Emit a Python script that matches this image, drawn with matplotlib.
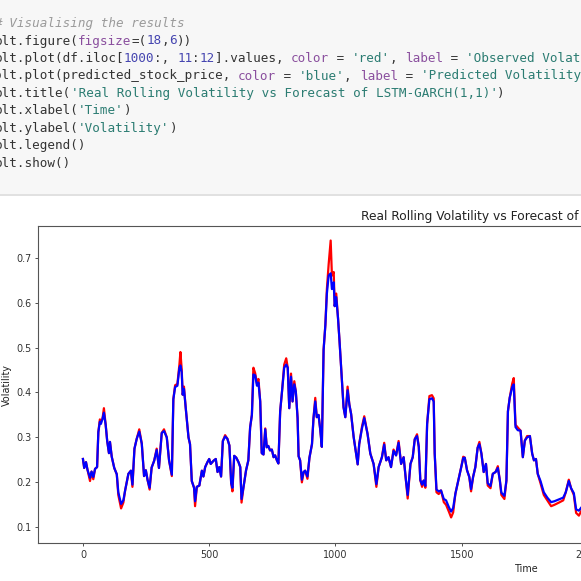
"""Notebook cell screenshot: LSTM-GARCH volatility forecast"""
from matplotlib import pyplot as plt
from matplotlib.patches import Rectangle
from matplotlib.lines import Line2D

W = H = 581
DPI = 100

# ---- data ----
time_idx = [0, 5, 12, 18, 28, 34, 41, 48, 56, 61, 67, 71, 77, 83, 90, 96, 103, 107, 114, 124,
            134, 140, 151, 160, 167, 180, 190, 196, 204, 213, 223, 233, 242, 249, 256, 264, 272, 282, 292, 301,
            312, 321, 332, 341, 352, 358, 365, 374, 382, 386, 391, 395, 400, 407, 418, 424, 431, 440, 444, 451,
            461, 471, 477, 484, 493, 500, 506, 517, 526, 533, 540, 547, 554, 563, 572, 580, 587, 592, 599, 607,
            616, 623, 628, 636, 646, 655, 662, 669, 675, 682, 689, 695, 702, 708, 715, 722, 728, 734, 741, 748,
            755, 761, 768, 774, 781, 788, 797, 805, 811, 817, 824, 830, 837, 843, 850, 854, 860, 867, 874, 880,
            889, 897, 907, 913, 920, 926, 933, 940, 946, 953, 960, 966, 973, 981, 986, 993, 997, 1003, 1010, 1016,
            1023, 1032, 1039, 1048, 1055, 1062, 1072, 1081, 1088, 1094, 1105, 1114, 1127, 1138, 1151, 1162, 1171, 1184, 1193, 1201,
            1210, 1220, 1230, 1240, 1250, 1260, 1270, 1279, 1286, 1297, 1306, 1314, 1323, 1330, 1336, 1343, 1349, 1356, 1363, 1372,
            1382, 1389, 1393, 1400, 1409, 1418, 1429, 1438, 1449, 1458, 1466, 1475, 1488, 1498, 1506, 1512, 1521, 1530, 1537, 1545,
            1554, 1563, 1570, 1578, 1587, 1596, 1603, 1614, 1623, 1634, 1643, 1651, 1657, 1669, 1677, 1683, 1690, 1700, 1706, 1713,
            1722, 1733, 1742, 1750, 1759, 1770, 1779, 1786, 1794, 1801, 1812, 1825, 1839, 1854, 1867, 1885, 1902, 1912, 1924, 1933,
            1944, 1953, 1964, 1975, 1990]

predicted = [0.252, 0.232, 0.245, 0.228, 0.210, 0.224, 0.212, 0.230, 0.234, 0.312, 0.335, 0.330, 0.340, 0.355, 0.328, 0.292, 0.265, 0.290, 0.257, 0.232,
             0.218, 0.178, 0.152, 0.160, 0.182, 0.219, 0.226, 0.195, 0.275, 0.297, 0.313, 0.286, 0.214, 0.227, 0.205, 0.188, 0.233, 0.248, 0.272, 0.232,
             0.310, 0.314, 0.300, 0.249, 0.217, 0.385, 0.412, 0.415, 0.455, 0.460, 0.445, 0.395, 0.408, 0.365, 0.300, 0.285, 0.203, 0.188, 0.158, 0.190,
             0.193, 0.226, 0.213, 0.234, 0.245, 0.252, 0.241, 0.248, 0.252, 0.223, 0.234, 0.213, 0.292, 0.302, 0.297, 0.282, 0.198, 0.188, 0.259, 0.255,
             0.245, 0.234, 0.163, 0.190, 0.227, 0.249, 0.322, 0.350, 0.440, 0.438, 0.415, 0.422, 0.380, 0.265, 0.262, 0.318, 0.278, 0.281, 0.271, 0.273,
             0.256, 0.260, 0.249, 0.242, 0.358, 0.400, 0.455, 0.462, 0.455, 0.365, 0.435, 0.380, 0.418, 0.402, 0.343, 0.258, 0.249, 0.206, 0.223, 0.226,
             0.213, 0.255, 0.285, 0.343, 0.380, 0.345, 0.350, 0.316, 0.279, 0.495, 0.550, 0.620, 0.660, 0.665, 0.630, 0.645, 0.592, 0.612, 0.566, 0.515,
             0.449, 0.367, 0.345, 0.405, 0.373, 0.352, 0.301, 0.267, 0.240, 0.285, 0.320, 0.343, 0.308, 0.264, 0.241, 0.196, 0.234, 0.256, 0.284, 0.249,
             0.256, 0.234, 0.270, 0.260, 0.288, 0.241, 0.256, 0.205, 0.172, 0.241, 0.256, 0.296, 0.303, 0.279, 0.205, 0.195, 0.204, 0.192, 0.330, 0.385,
             0.387, 0.380, 0.264, 0.184, 0.180, 0.182, 0.163, 0.160, 0.145, 0.135, 0.143, 0.175, 0.208, 0.234, 0.254, 0.255, 0.227, 0.212, 0.185, 0.212,
             0.234, 0.277, 0.285, 0.264, 0.223, 0.241, 0.198, 0.192, 0.219, 0.223, 0.232, 0.204, 0.177, 0.170, 0.204, 0.358, 0.388, 0.412, 0.418, 0.323,
             0.316, 0.315, 0.256, 0.293, 0.300, 0.303, 0.264, 0.249, 0.252, 0.219, 0.203, 0.178, 0.166, 0.156, 0.158, 0.162, 0.166, 0.178, 0.203, 0.187,
             0.176, 0.140, 0.137, 0.145, 0.148]

observed = [0.252, 0.232, 0.245, 0.228, 0.203, 0.224, 0.207, 0.230, 0.234, 0.312, 0.340, 0.338, 0.340, 0.365, 0.328, 0.292, 0.265, 0.290, 0.257, 0.232,
            0.218, 0.172, 0.142, 0.155, 0.182, 0.219, 0.226, 0.190, 0.275, 0.297, 0.318, 0.286, 0.214, 0.227, 0.205, 0.184, 0.233, 0.248, 0.275, 0.232,
            0.310, 0.318, 0.300, 0.249, 0.214, 0.385, 0.416, 0.419, 0.462, 0.490, 0.452, 0.395, 0.413, 0.365, 0.300, 0.285, 0.203, 0.188, 0.147, 0.190,
            0.193, 0.226, 0.213, 0.234, 0.245, 0.252, 0.241, 0.248, 0.252, 0.223, 0.234, 0.213, 0.292, 0.305, 0.297, 0.282, 0.198, 0.180, 0.259, 0.255,
            0.245, 0.234, 0.155, 0.190, 0.227, 0.249, 0.322, 0.350, 0.455, 0.443, 0.420, 0.430, 0.380, 0.265, 0.262, 0.320, 0.278, 0.281, 0.271, 0.273,
            0.256, 0.260, 0.249, 0.242, 0.358, 0.400, 0.462, 0.476, 0.455, 0.365, 0.442, 0.380, 0.425, 0.402, 0.343, 0.258, 0.249, 0.200, 0.223, 0.226,
            0.208, 0.255, 0.285, 0.343, 0.388, 0.345, 0.350, 0.316, 0.279, 0.495, 0.550, 0.630, 0.685, 0.738, 0.660, 0.668, 0.592, 0.620, 0.566, 0.515,
            0.449, 0.367, 0.345, 0.413, 0.373, 0.352, 0.301, 0.267, 0.240, 0.285, 0.324, 0.347, 0.308, 0.264, 0.241, 0.190, 0.234, 0.256, 0.288, 0.249,
            0.256, 0.234, 0.273, 0.260, 0.292, 0.241, 0.256, 0.205, 0.164, 0.241, 0.256, 0.296, 0.307, 0.279, 0.205, 0.190, 0.204, 0.188, 0.330, 0.392,
            0.394, 0.387, 0.264, 0.178, 0.174, 0.182, 0.156, 0.150, 0.135, 0.122, 0.133, 0.175, 0.208, 0.234, 0.257, 0.255, 0.227, 0.212, 0.180, 0.212,
            0.234, 0.277, 0.290, 0.264, 0.223, 0.241, 0.193, 0.187, 0.219, 0.223, 0.236, 0.204, 0.172, 0.163, 0.204, 0.358, 0.388, 0.420, 0.432, 0.328,
            0.322, 0.315, 0.256, 0.293, 0.303, 0.303, 0.264, 0.249, 0.252, 0.219, 0.198, 0.172, 0.160, 0.147, 0.150, 0.155, 0.160, 0.178, 0.206, 0.187,
            0.172, 0.132, 0.126, 0.138, 0.142]

# ---- code cell text: (text, kind) segments per line ----
code_lines = [
    [("# Visualising the results", "comment")],
    [("plt.figure(", "plain"), ("figsize", "kw"), ("=(", "plain"), ("18", "num"), (",", "plain"),
     ("6", "num"), ("))", "plain")],
    [("plt.plot(df.iloc[", "plain"), ("1000", "num"), (":, ", "plain"), ("11", "num"), (":", "plain"),
     ("12", "num"), ("].values, ", "plain"), ("color", "kw"), (" = ", "plain"), ("'red'", "str"),
     (", ", "plain"), ("label", "kw"), (" = ", "plain"), ("'Observed Volatility'", "str"), (")", "plain")],
    [("plt.plot(predicted_stock_price, ", "plain"), ("color", "kw"), (" = ", "plain"), ("'blue'", "str"),
     (", ", "plain"), ("label", "kw"), (" = ", "plain"), ("'Predicted Volatility'", "str"), (")", "plain")],
    [("plt.title(", "plain"), ("'Real Rolling Volatility vs Forecast of LSTM-GARCH(1,1)'", "str"), (")", "plain")],
    [("plt.xlabel(", "plain"), ("'Time'", "str"), (")", "plain")],
    [("plt.ylabel(", "plain"), ("'Volatility'", "str"), (")", "plain")],
    [("plt.legend()", "plain")],
    [("plt.show()", "plain")],
]
code_colors = {"plain": "#333333", "comment": "#9a9a9a", "kw": "#8a4f9e",
               "num": "#4545b0", "str": "#2b7c72"}

fig = plt.figure(figsize=(W / DPI, H / DPI), dpi=DPI)
fig.patch.set_facecolor("white")

# code cell background + separator
fig.patches.append(Rectangle((0, 1 - 194 / H), 1, 194 / H, transform=fig.transFigure,
                             facecolor="#f7f7f7", edgecolor="none", zorder=0))
fig.lines.append(Line2D([0, 1], [1 - 195 / H] * 2, transform=fig.transFigure,
                        color="#dcdcdc", lw=1.2))

fs_code = 9.1
cw = fs_code * DPI / 72 * 0.602
x0 = -5.5
for i, segs in enumerate(code_lines):
    y = 1 - (27 + 17.5 * i) / H
    col = 0
    for text, kind in segs:
        fig.text((x0 + col * cw) / W, y, text, family="DejaVu Sans Mono", fontsize=fs_code,
                 color=code_colors[kind], style="italic" if kind == "comment" else "normal",
                 va="baseline", ha="left")
        col += len(text)

# ---- the (cropped) matplotlib figure ----
ax = fig.add_axes([38 / W, (H - 543) / H, 978 / W, 317 / H])
ax.plot(time_idx, observed, color="red", lw=1.6, label="Observed Volatility")
ax.plot(time_idx, predicted, color="blue", lw=1.6, label="Predicted Volatility")
ax.set_xlim(-178, 3695)
ax.set_ylim(0.0651, 0.7703)
ax.set_xticks([0, 500, 1000, 1500, 2000, 2500, 3000, 3500])
ax.set_yticks([0.1, 0.2, 0.3, 0.4, 0.5, 0.6, 0.7])
ax.set_yticklabels(["0.1", "0.2", "0.3", "0.4", "0.5", "0.6", "0.7"])
ax.tick_params(labelsize=6.9, length=2.4, width=0.6, pad=2.4, colors="#333333")
for s in ax.spines.values():
    s.set_linewidth(0.8)
    s.set_color("#555555")
ax.set_title("Real Rolling Volatility vs Forecast of LSTM-GARCH(1,1)", fontsize=8.8,
             color="#222222", pad=4.2)
ax.set_xlabel("Time", fontsize=6.9, color="#222222", labelpad=2.8)
ax.set_ylabel("Volatility", fontsize=6.9, color="#222222", labelpad=2.8)
ax.legend(fontsize=6.9)

fig.savefig("out.png", dpi=DPI)
